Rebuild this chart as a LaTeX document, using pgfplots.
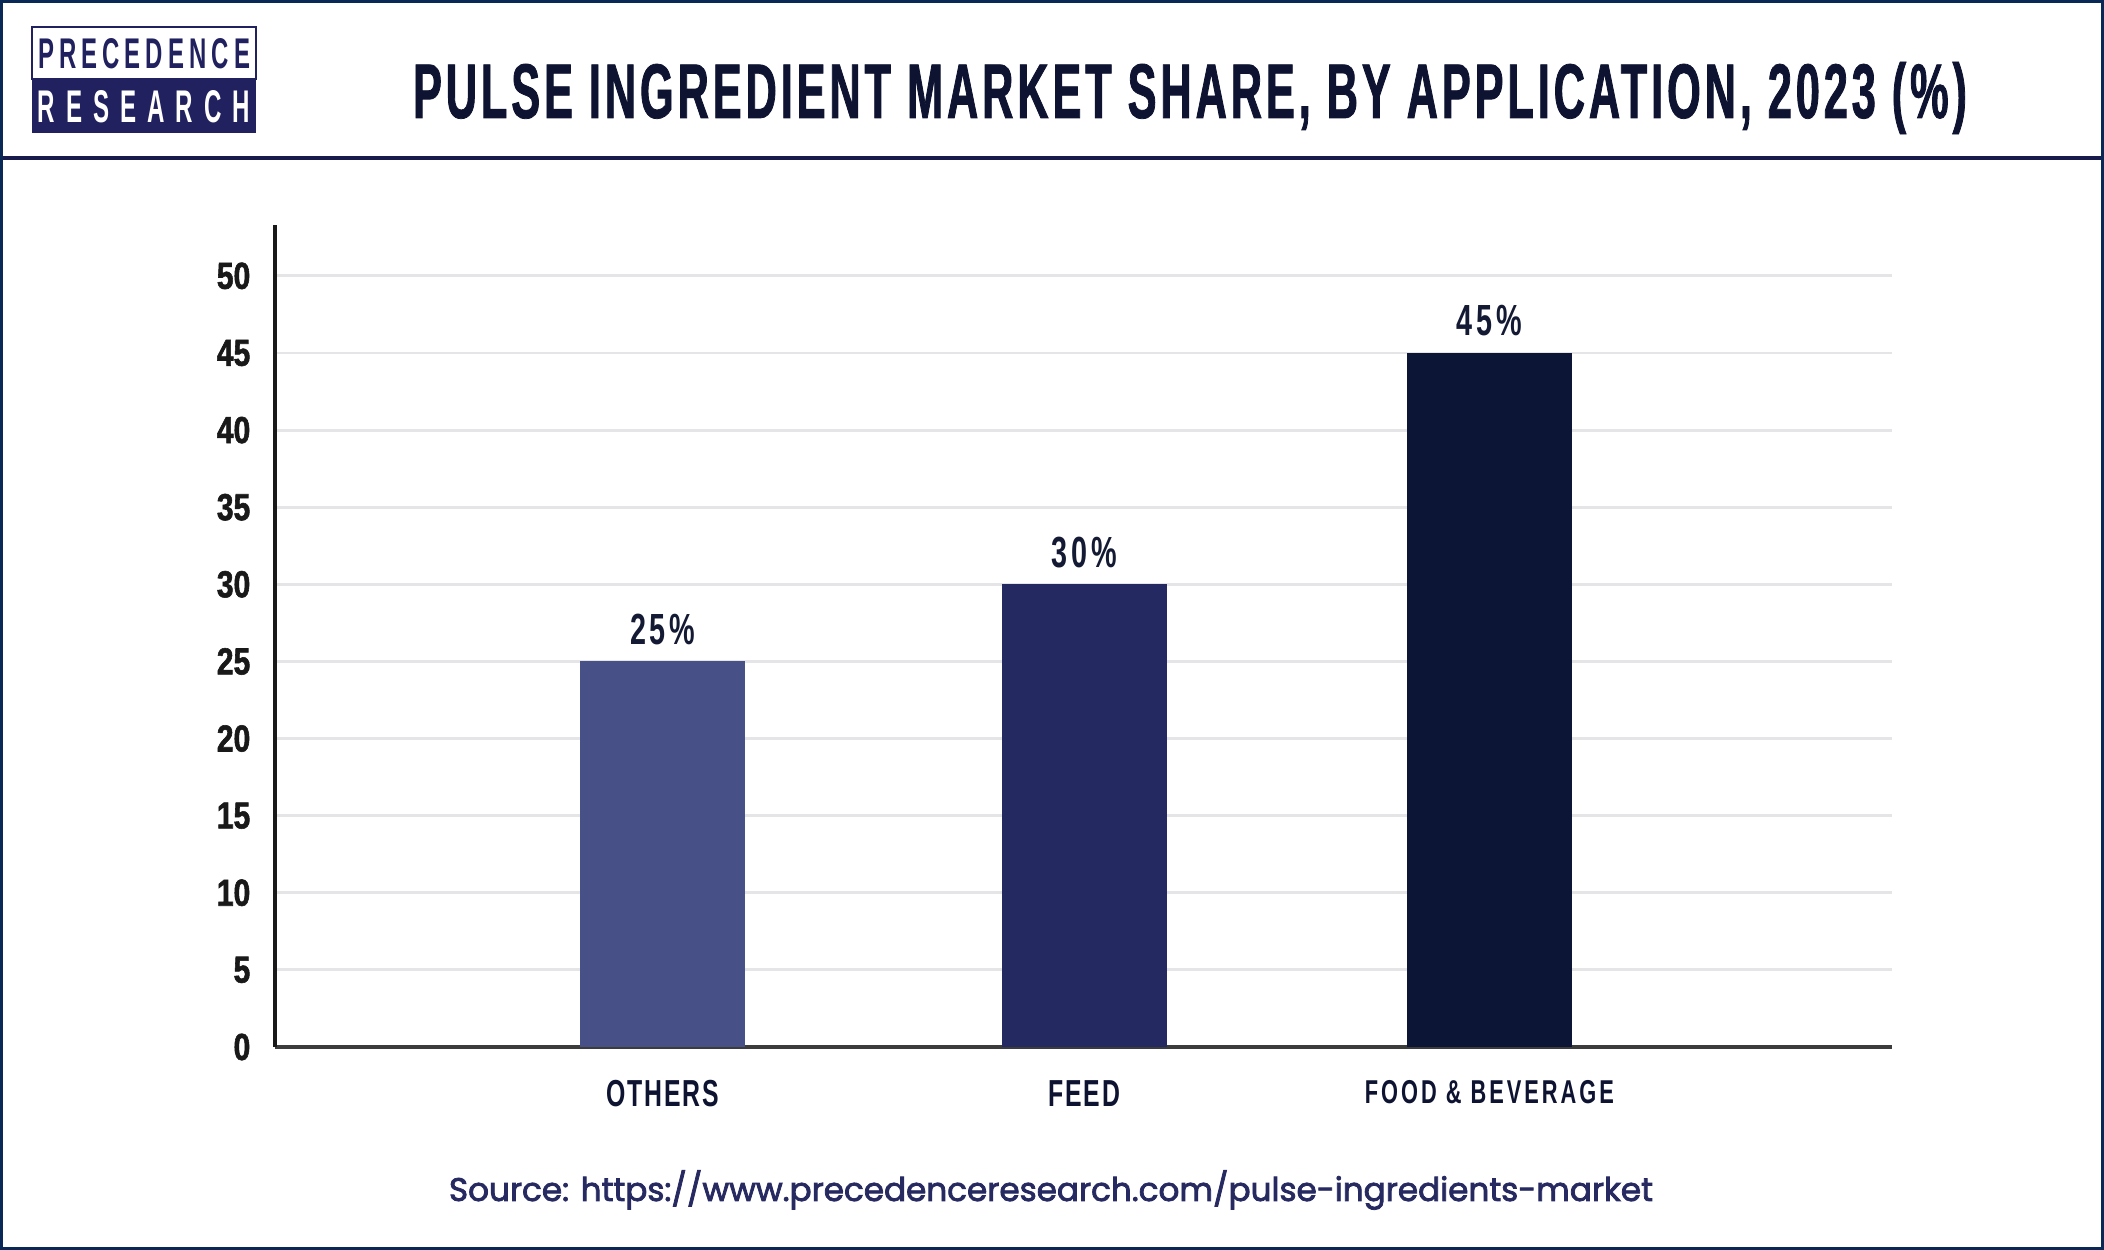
\documentclass[border=0pt]{standalone}
\usepackage{pgfplots}
\pgfplotsset{compat=1.18}
\usepackage{fontspec}
\setmainfont{Liberation Sans}
\newfontfamily\condfont{Liberation Sans}[FakeStretch=0.66]
\newfontfamily\titlefont{Liberation Sans}[FakeStretch=0.56, FakeBold=1]
\newfontfamily\tickfont{Liberation Sans}[FakeStretch=0.8, FakeBold=1.5]
\newfontfamily\srcfont{Poppins}[FakeBold=2.4]

\definecolor{framecol}{RGB}{10,40,85}
\definecolor{headline}{RGB}{25,27,77}
\definecolor{logonavy}{RGB}{33,33,96}
\definecolor{titlecol}{RGB}{13,19,48}
\definecolor{otherscol}{RGB}{71,81,135}
\definecolor{feedcol}{RGB}{36,42,97}
\definecolor{foodcol}{RGB}{12,21,54}
\definecolor{gridcol}{RGB}{229,229,232}
\definecolor{axiscol}{RGB}{60,60,60}
\definecolor{srccol}{RGB}{38,42,96}
\definecolor{labelcol}{RGB}{20,26,51}

\begin{document}
\begin{tikzpicture}
\useasboundingbox (0,0) rectangle (21.04,12.5);
\fill[white] (0,0) rectangle (21.04,12.5);

\begin{axis}[
    at={(2.75cm,2.03cm)}, anchor=south west,
    scale only axis,
    width=16.17cm, height=8.22cm,
    xmin=0.062, xmax=3.974,
    ymin=0, ymax=53.3,
    axis x line*=bottom, axis y line*=left,
    x axis line style={line width=1.3pt, draw=axiscol},
    y axis line style={line width=1.1pt, draw=black!90},
    ybar, bar width=0.40, bar shift=0pt,
    ytick={0,5,...,50},
    xtick={1,2.02,3},
    xticklabels={{OTHERS},{FEED},{\fontsize{9.4}{10}\selectfont\addfontfeatures{LetterSpace=9}FOOD \& BEVERAGE}},
    major tick length=0pt,
    ymajorgrids,
    grid style={line width=0.8pt, draw=gridcol},
    /pgf/number format/assume math mode=true,
    yticklabel style={font=\tickfont\bfseries\fontsize{10.7}{11}\selectfont, text=black!90, anchor=east, inner sep=0pt, xshift=-0.24cm},
    xticklabel style={font=\condfont\bfseries\fontsize{10.7}{11}\selectfont\addfontfeatures{LetterSpace=5}, text=titlecol, anchor=north, inner sep=0pt, yshift=-0.33cm},
    nodes near coords={\pgfmathprintnumber{\pgfplotspointmeta}\%},
    every node near coord/.append style={font=\condfont\bfseries\fontsize{12.4}{12}\selectfont\addfontfeatures{LetterSpace=9}, text=labelcol, anchor=south, inner sep=0pt, yshift=0.16cm},
]
\addplot[fill=otherscol, draw=none] coordinates {(1,25)};
\addplot[fill=feedcol, draw=none] coordinates {(2.02,30)};
\addplot[fill=foodcol, draw=none] coordinates {(3,45)};
\end{axis}

% header
\draw[headline, line width=0.04cm] (0,10.92) -- (21.04,10.92);
% logo
\draw[logonavy, line width=0.02cm, fill=white] (0.32,11.71) rectangle (2.56,12.23);
\fill[logonavy] (0.32,11.17) rectangle (2.56,11.71);
\node[text=logonavy, inner sep=0pt] at (1.44,11.96) {\resizebox{2.12cm}{0.30cm}{\condfont\bfseries\addfontfeatures{LetterSpace=14}PRECEDENCE}};
\node[text=white, inner sep=0pt] at (1.44,11.43) {\resizebox{2.12cm}{0.32cm}{\condfont\bfseries\addfontfeatures{LetterSpace=30}RESEARCH}};
% title
\node[text=titlecol, inner sep=0pt, anchor=base] at (11.90,11.32) {\resizebox{15.54cm}{!}{\titlefont\bfseries\addfontfeatures{LetterSpace=5}PULSE INGREDIENT MARKET SHARE, BY APPLICATION, 2023 (\%)}};
% source
\node[text=srccol, inner sep=0pt] at (10.51,0.60) {\resizebox{12.04cm}{!}{\srcfont Source: https://www.precedenceresearch.com/pulse-ingredients-market}};
% outer frame
\draw[framecol, line width=0.03cm] (0.015,0.015) rectangle (21.025,12.485);
\end{tikzpicture}
\end{document}
